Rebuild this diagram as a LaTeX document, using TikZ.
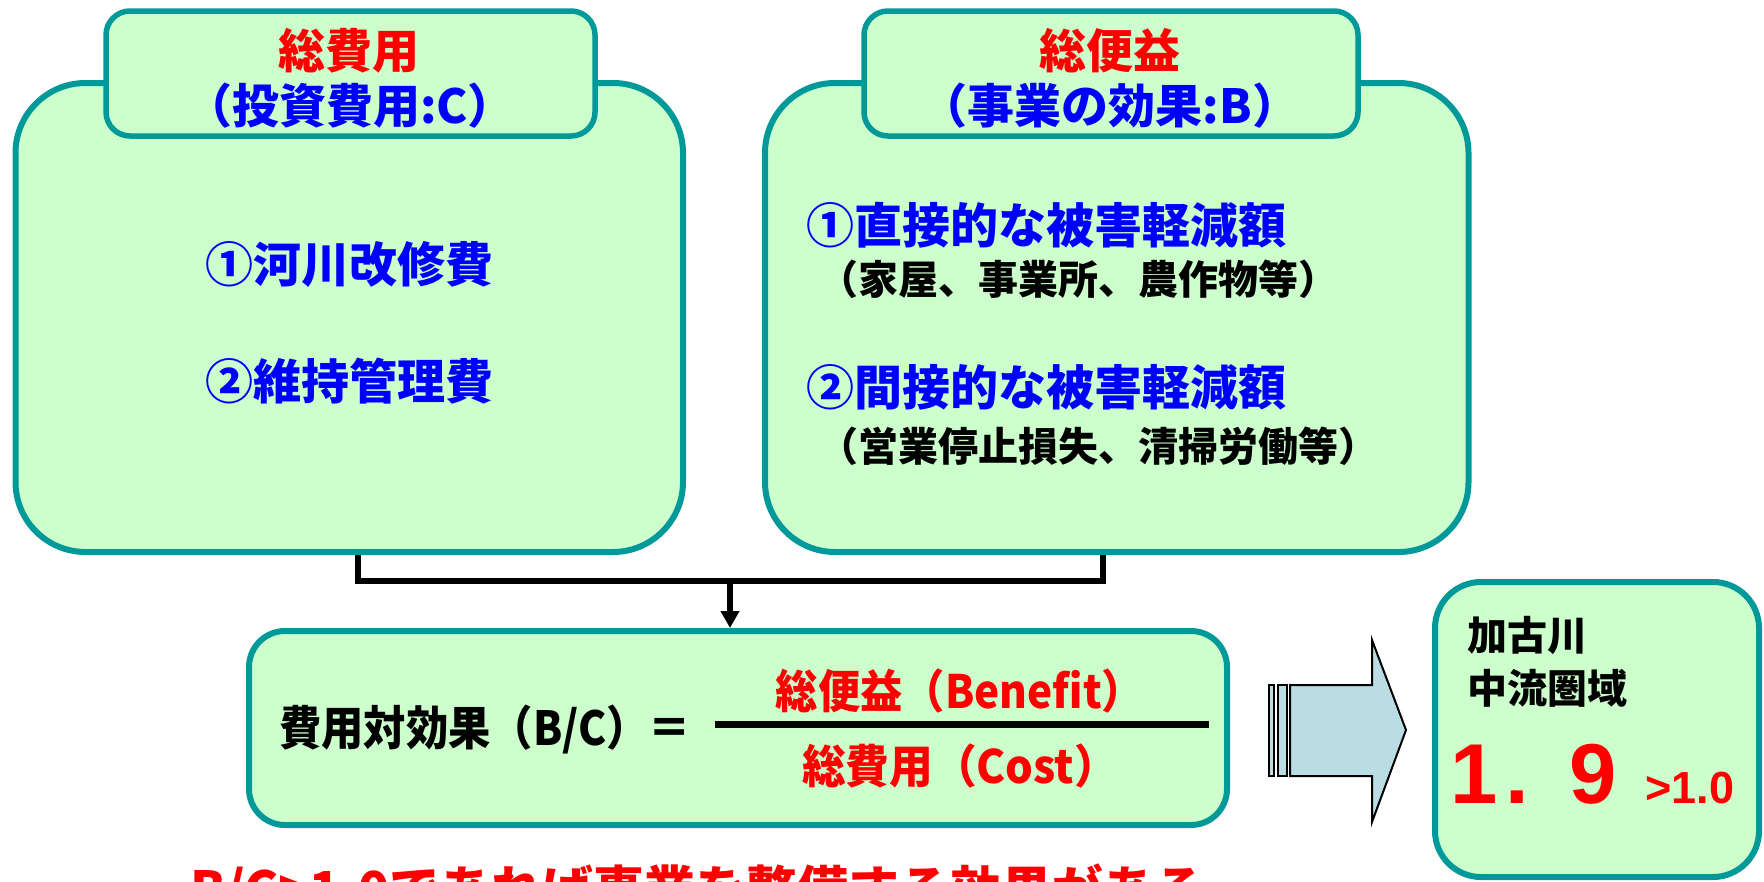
\documentclass[tikz,border=0pt]{standalone}
\usepackage{fontspec}
\usepackage{graphicx}
\setmainfont{Noto Sans CJK JP}
\newfontfamily\arialf{Liberation Sans}
\usetikzlibrary{arrows.meta}
\definecolor{tealb}{RGB}{0,153,153}
\definecolor{boxg}{RGB}{204,255,204}
\definecolor{arrowb}{RGB}{185,221,227}
\definecolor{tred}{RGB}{255,0,0}
\definecolor{tblue}{RGB}{0,0,255}
\tikzset{
  panel/.style={draw=tealb, line width=6pt, fill=boxg, rounded corners=70pt, inner sep=0pt},
  hdr/.style={draw=tealb, line width=5.5pt, fill=boxg, rounded corners=24pt, inner sep=0pt},
  fbox/.style={draw=tealb, line width=6pt, fill=boxg, rounded corners=36pt, inner sep=0pt},
  rbox/.style={draw=tealb, line width=6pt, fill=boxg, rounded corners=46pt, inner sep=0pt},
  t/.style={inner sep=0pt, font=\bfseries\fontsize{#1}{#1}\selectfont},
  conn/.style={draw=black, line width=6pt},
  bigarrow/.style={draw=black, line width=2pt, fill=arrowb, line join=miter},
}
\begin{document}
\begin{tikzpicture}[x=1pt,y=-1pt]
\useasboundingbox (0,0) rectangle (1764,881);
% big panels
\node[panel, minimum width=667.5pt, minimum height=469pt] (lbox) at (349.25,317.5) {};
\node[panel, minimum width=703.5pt, minimum height=469pt] (rbox) at (1116.75,317.5) {};
% headers
\node[hdr, minimum width=489pt, minimum height=125pt] (lhdr) at (350.5,73.5) {};
\node[hdr, minimum width=494pt, minimum height=125pt] (rhdr) at (1111,73.5) {};
\node[t=47, text=tred] (lh1) at (349,51) {総費用};
\node[t=47, text=tblue] (lh2) at (350,106) {（投資費用:C）};
\node[t=47, text=tred] (rh1) at (1110,51) {総便益};
\node[t=47, text=tblue] (rh2) at (1110,106) {（事業の効果:B）};
% left contents
\node[t=48, text=tblue] (l1) at (349.5,264) {①河川改修費};
\node[t=48, text=tblue] (l2) at (349.5,381) {②維持管理費};
% right contents
\node[t=48, text=tblue, anchor=west] (r1) at (806,225) {①直接的な被害軽減額};
\node[t=40, text=black, anchor=west] (r1s) at (818,279) {（家屋、事業所、農作物等）};
\node[t=48, text=tblue, anchor=west] (r2) at (806,387) {②間接的な被害軽減額};
\node[t=40, text=black, anchor=west] (r2s) at (818,446) {（営業停止損失、清掃労働等）};
% formula box
\node[fbox, minimum width=978pt, minimum height=194pt] (fb) at (738,728) {};
\node[t=47, text=black, anchor=west] (fl) at (279,730) {\scalebox{0.9}[1]{費用対効果（B/C）＝}};
\coordinate (fra) at (715,724);
\coordinate (frb) at (1209,724);
\draw[line width=7pt] (fra) -- (frb);
\node[t=46, text=tred] (num) at (960,691) {\scalebox{0.92}[1]{総便益（Benefit）}};
\node[t=46, text=tred] (den) at (960,766) {\scalebox{0.95}[1]{総費用（Cost）}};
% connectors
\coordinate (jn) at (730,581);
\draw[conn] ([xshift=8.75pt]lbox.south) |- (jn) -| ([xshift=-14.25pt]rbox.south);
\draw[conn, -{Triangle[width=18pt,length=17pt]}] (jn) -- (fb.north -| jn);
% big arrow
\draw[bigarrow] (1269,685) rectangle (1274,776);
\draw[bigarrow] (1278,685) rectangle (1287,776);
\draw[bigarrow] (1290,685) -- (1372,685) -- (1372,640) -- (1406,730) -- (1372,822) -- (1372,776) -- (1290,776) -- cycle;
% result box
\node[rbox, minimum width=324pt, minimum height=295pt] (res) at (1597,729.5) {};
\node[t=40, text=black, anchor=west] (rs1) at (1467,635) {加古川};
\node[t=40, text=black, anchor=west] (rs2) at (1467,688) {中流圏域};
\node[inner sep=0pt, anchor=base west, text=tred, font=\arialf\bfseries\fontsize{85}{85}\selectfont] (val) at (1450,803) {\makebox[55pt][l]{1}\makebox[64pt][l]{.}9};
\node[inner sep=0pt, anchor=base west, text=tred, font=\arialf\bfseries\fontsize{45}{45}\selectfont] (thr) at (1645,803) {>1.0};
% bottom statement
\node[t=51, text=tred, anchor=base west] (stmt) at (190,908) {B/C>1.0であれば事業を整備する効果がある};
\end{tikzpicture}
\end{document}
